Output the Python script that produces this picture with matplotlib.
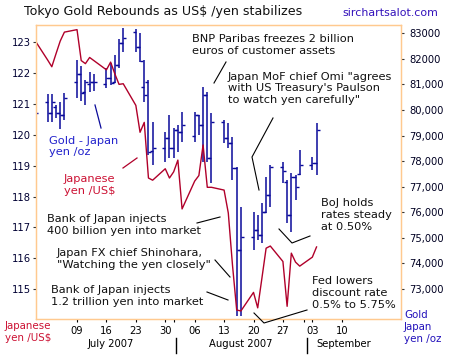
import matplotlib
matplotlib.use('Agg')
import matplotlib.pyplot as plt
import matplotlib.dates as mdates
from matplotlib.lines import Line2D
import pandas as pd

# trading days shown on the chart
dates = pd.bdate_range('2007-06-29', '2007-09-04')

# Gold in yen per oz (open, high, low, close)
gold_open = [80100, 80330, 79880, 80100, 79900, 79800,
             81100, 81400, 80700, 81000, 81080,
             81000, 81240, 81100, 81760, 82610,
             83060, 82480, 80910, 81100, 78400,
             78500, 78900, 78500, 79200, 79150,
             79000, 79800, 79410, 80590, 78110,
             79540, 78900, 78700, 77730, 74530,
             75050, 75300, 75110, 76000, 76680,
             77780, 77200, 75900, 77390, 77500,
             77850, 77930]
gold_high = [80430, 80630, 80630, 80200, 80310, 80670,
             81960, 81730, 81170, 81500, 81410,
             81640, 81840, 82150, 82780, 83210,
             83170, 83010, 81960, 81170, 79530,
             79140, 79810, 79300, 79410, 79920,
             79920, 79810, 80900, 80700, 79880,
             79610, 79500, 78950, 77770, 76210,
             76010, 75890, 76360, 77380, 77850,
             77970, 77260, 77540, 77460, 78440,
             78160, 79500]
gold_low = [79610, 79530, 79530, 79690, 79250, 79610,
            80480, 80350, 80200, 80720, 80740,
            80860, 80980, 81060, 81640, 82270,
            82270, 81880, 80310, 78240, 77850,
            77970, 78120, 78120, 78360, 78750,
            78750, 79020, 77970, 77970, 77150,
            78710, 78520, 77270, 71950, 71950,
            74530, 74920, 74800, 75970, 76210,
            77150, 75580, 75230, 76480, 77460,
            77650, 77460]
gold_close = [79880, 79880, 80330, 79880, 79800, 80480,
              81400, 80650, 81080, 81080, 81100,
              81240, 81040, 81760, 82610, 82800,
              82480, 81920, 80600, 78350, 78500,
              78900, 78500, 79220, 79150, 79410,
              79800, 79410, 80590, 78110, 79540,
              78900, 78700, 77730, 74530, 75050,
              75300, 75110, 76000, 76680, 77780,
              77600, 75900, 77390, 77000, 77850,
              77930, 79220]

# Japanese yen per US$
yen = [123.05, 122.42, 122.2, 122.62, 123.03, 123.32,
       123.4, 122.4, 122.3, 122.5, 122.4,
       122.1, 122.35, 121.97, 121.63, 121.65,
       120.95, 120.08, 120.4, 118.6, 118.53,
       118.9, 118.6, 118.8, 119.18, 117.6,
       118.5, 118.68, 119.67, 118.3, 118.3,
       118.21, 117.47, 115.78, 114.33, 114.3,
       114.9, 114.4, 115.36, 116.33, 116.4,
       115.9, 114.45, 116.17, 115.88, 115.75,
       116.04, 116.37]

yen_ticks = [115, 116, 117, 118, 119, 120, 121, 122, 123]
gold_ticks = [73000, 74000, 75000, 76000, 77000, 78000, 79000, 80000, 81000, 82000, 83000]
gold_labels = ['73,000', '74,000', '75,000', '76,000', '77,000', '78,000',
               '79,000', '80,000', '81,000', '82000', '83000']
week_ticks = pd.date_range('2007-07-09', '2007-09-10', freq='7D')

W, H = 460, 360
ORANGE = '#FFC98F'
RED = '#B0002A'
BLUE = '#0A0A9A'
FS = 8.2


def px(x, y):
    return (x / W, 1 - y / H)


fig = plt.figure(figsize=(W / 100, H / 100), dpi=100)
fig.patch.set_facecolor('white')
l, b = px(36, 319.3)
r, t = px(401, 24.7)
ax = fig.add_axes([l, b, r - l, t - b])
ax2 = ax.twinx()

x0 = pd.Timestamp('2007-07-09') - pd.Timedelta(days=9.76)
x1 = pd.Timestamp('2007-07-09') + pd.Timedelta(days=77.1)
ax.set_xlim(x0, x1)
ax.set_ylim(114.03, 123.56)
ax2.set_ylim(71817, 83336)

# gold OHLC bars
ax2.vlines(dates, gold_low, gold_high, color=BLUE, lw=1.1)
ax2.plot(dates, gold_open, ls='none', marker=0, ms=2.0, mew=1.0, color=BLUE)
ax2.plot(dates, gold_close, ls='none', marker=1, ms=2.0, mew=1.0, color=BLUE)

# yen line on top
ax.set_zorder(ax2.get_zorder() + 1)
ax.patch.set_visible(False)
ax.plot(dates, yen, color=RED, lw=1.0)

for a in (ax, ax2):
    for s in a.spines.values():
        s.set_color(ORANGE)
        s.set_linewidth(0.9)

ax.set_yticks(yen_ticks)
ax.tick_params(axis='y', labelsize=7.2, length=2.2, pad=1.2, labelcolor='#000033',
               width=0.8, color='#333333')
ax2.set_yticks(gold_ticks)
ax2.set_yticklabels(gold_labels)
ax2.tick_params(axis='y', labelsize=7.2, length=2.2, pad=3.5, labelcolor='#000022',
                width=0.8, color='#333333')

ax.set_xticks(week_ticks)
ax.set_xticklabels([d.strftime('%d') for d in week_ticks])
ax.set_xticks([pd.Timestamp('2007-08-01'), pd.Timestamp('2007-09-01')], minor=True)
ax.tick_params(axis='x', which='both', labelsize=7.2, length=2.5, pad=2.5,
               width=0.8, color='black')

# month labels
trans = ax.get_xaxis_transform()
ax.text(pd.Timestamp('2007-07-17'), -0.085, 'July 2007', transform=trans,
        ha='center', va='center', fontsize=7.2)
ax.text(pd.Timestamp('2007-08-17'), -0.085, 'August 2007', transform=trans,
        ha='center', va='center', fontsize=7.2)
ax.text(pd.Timestamp('2007-09-04'), -0.085, 'September', transform=trans,
        ha='left', va='center', fontsize=7.2)
for m in ['2007-08-01 14:00', '2007-09-01 18:00']:
    ax.add_line(Line2D([mdates.date2num(pd.Timestamp(m))] * 2, [-0.063, -0.113],
                       transform=trans, color='black', lw=1.0, clip_on=False))

# titles and axis captions
fig.text(*px(24, 11), 'Tokyo Gold Rebounds as US$ /yen stabilizes',
         fontsize=9.1, va='center', ha='left', color='#111111')
fig.text(*px(342, 13), 'sirchartsalot.com', fontsize=7.9, va='center',
         ha='left', color='#3311BB')
fig.text(*px(5, 321), 'Japanese\nyen /US$', fontsize=7.4, va='top', ha='left',
         color='#CC1133', linespacing=1.2)
fig.text(*px(404, 310), 'Gold\nJapan\nyen /oz', fontsize=7.4, va='top',
         ha='left', color='#2211BB', linespacing=1.25)

# series captions
fig.text(*px(49, 135.5), 'Gold - Japan\nyen /oz', fontsize=FS, va='top',
         ha='left', color='#2222CC', linespacing=1.22)
fig.text(*px(64, 174), 'Japanese\nyen /US$', fontsize=FS, va='top',
         ha='left', color='#CC1133', linespacing=1.22)

notes = [
    (192, 34.3, 'BNP Paribas freezes 2 billion\neuros of customer assets'),
    (228, 71.5, 'Japan MoF chief Omi "agrees\nwith US Treasury\'s Paulson\nto watch yen carefully"'),
    (321, 198, 'BoJ holds\nrates steady\nat 0.50%'),
    (312, 276.5, 'Fed lowers\ndiscount rate\n0.5% to 5.75%'),
    (47, 214, 'Bank of Japan injects\n400 billion yen into market'),
    (57, 248, 'Japan FX chief Shinohara,\n"Watching the yen closely"'),
    (51, 285, 'Bank of Japan injects\n1.2 trillion yen into market'),
]
for x, y, s in notes:
    fig.text(*px(x, y), s, fontsize=FS, va='top', ha='left', color='#111111',
             linespacing=1.22)

pointers = [
    [(226, 62), (214, 83)],
    [(273, 118), (252, 157), (259, 190)],
    [(279, 229), (292, 243), (310, 236)],
    [(307, 310), (264, 323), (254, 313)],
    [(197, 223), (220, 217)],
    [(215, 260), (230, 277)],
    [(207, 292), (228, 300)],
]
for pts in pointers:
    xs = [p[0] / W for p in pts]
    ys = [1 - p[1] / H for p in pts]
    fig.add_artist(Line2D(xs, ys, color='black', lw=0.8))
fig.add_artist(Line2D([95 / W, 101 / W], [1 - 105 / H, 1 - 128 / H], color=BLUE, lw=0.9))
fig.add_artist(Line2D([123 / W, 137 / W], [1 - 168 / H, 1 - 158 / H], color=RED, lw=0.9))

fig.savefig('out.png', dpi=100)
